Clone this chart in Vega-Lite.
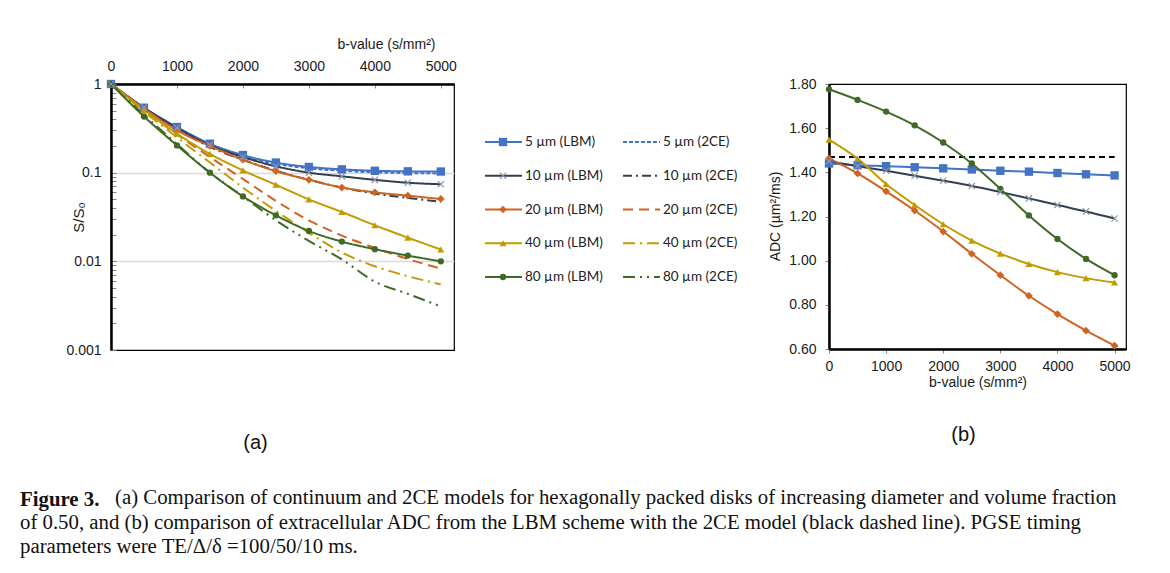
{
  "$schema": "https://vega.github.io/schema/vega-lite/v6.json",
  "background": "white",
  "padding": {"left": 20, "top": 36, "right": 0, "bottom": 0},
  "config": {
    "font": "Liberation Sans",
    "view": {"stroke": "#000", "strokeWidth": 1.2},
    "axis": {"labelFont": "Liberation Sans", "labelFontSize": 14, "labelColor": "#1a1a1a", "titleFont": "Liberation Sans", "titleFontSize": 14, "titleFontWeight": "normal", "titleColor": "#1a1a1a", "domainColor": "#000", "domainWidth": 2.5, "tickColor": "#888", "grid": false, "labelFlush": false, "labelOverlap": false},
    "title": {"font": "Liberation Sans", "fontWeight": "normal", "fontSize": 20, "color": "#111"}
  },
  "title": {
    "text": "(a) Comparison of continuum and 2CE models for hexagonally packed disks of increasing diameter and volume fraction",
    "orient": "bottom", "anchor": "start", "frame": "group", "dx": 4, "offset": -69,
    "font": "Liberation Serif", "fontSize": 20.8, "fontWeight": "normal", "color": "#111"
  },
  "datasets": {
    "a": [
      {"s":"5 µm (LBM)","d":5,"m":"LBM","b":0,"v":1},{"s":"5 µm (LBM)","d":5,"m":"LBM","b":500,"v":0.54},{"s":"5 µm (LBM)","d":5,"m":"LBM","b":1000,"v":0.327},{"s":"5 µm (LBM)","d":5,"m":"LBM","b":1500,"v":0.212},{"s":"5 µm (LBM)","d":5,"m":"LBM","b":2000,"v":0.158},{"s":"5 µm (LBM)","d":5,"m":"LBM","b":2500,"v":0.13},{"s":"5 µm (LBM)","d":5,"m":"LBM","b":3000,"v":0.116},{"s":"5 µm (LBM)","d":5,"m":"LBM","b":3500,"v":0.109},{"s":"5 µm (LBM)","d":5,"m":"LBM","b":4000,"v":0.105},{"s":"5 µm (LBM)","d":5,"m":"LBM","b":4500,"v":0.1035},{"s":"5 µm (LBM)","d":5,"m":"LBM","b":5000,"v":0.103},
      {"s":"5 µm (2CE)","d":5,"m":"2CE","b":0,"v":1},{"s":"5 µm (2CE)","d":5,"m":"2CE","b":500,"v":0.54},{"s":"5 µm (2CE)","d":5,"m":"2CE","b":1000,"v":0.322},{"s":"5 µm (2CE)","d":5,"m":"2CE","b":1500,"v":0.207},{"s":"5 µm (2CE)","d":5,"m":"2CE","b":2000,"v":0.153},{"s":"5 µm (2CE)","d":5,"m":"2CE","b":2500,"v":0.126},{"s":"5 µm (2CE)","d":5,"m":"2CE","b":3000,"v":0.112},{"s":"5 µm (2CE)","d":5,"m":"2CE","b":3500,"v":0.105},{"s":"5 µm (2CE)","d":5,"m":"2CE","b":4000,"v":0.101},{"s":"5 µm (2CE)","d":5,"m":"2CE","b":4500,"v":0.099},{"s":"5 µm (2CE)","d":5,"m":"2CE","b":5000,"v":0.098},
      {"s":"10 µm (LBM)","d":10,"m":"LBM","b":0,"v":1},{"s":"10 µm (LBM)","d":10,"m":"LBM","b":500,"v":0.54},{"s":"10 µm (LBM)","d":10,"m":"LBM","b":1000,"v":0.32},{"s":"10 µm (LBM)","d":10,"m":"LBM","b":1500,"v":0.205},{"s":"10 µm (LBM)","d":10,"m":"LBM","b":2000,"v":0.15},{"s":"10 µm (LBM)","d":10,"m":"LBM","b":2500,"v":0.118},{"s":"10 µm (LBM)","d":10,"m":"LBM","b":3000,"v":0.1},{"s":"10 µm (LBM)","d":10,"m":"LBM","b":3500,"v":0.091},{"s":"10 µm (LBM)","d":10,"m":"LBM","b":4000,"v":0.083},{"s":"10 µm (LBM)","d":10,"m":"LBM","b":4500,"v":0.077},{"s":"10 µm (LBM)","d":10,"m":"LBM","b":5000,"v":0.074},
      {"s":"10 µm (2CE)","d":10,"m":"2CE","b":0,"v":1},{"s":"10 µm (2CE)","d":10,"m":"2CE","b":500,"v":0.53},{"s":"10 µm (2CE)","d":10,"m":"2CE","b":1000,"v":0.31},{"s":"10 µm (2CE)","d":10,"m":"2CE","b":1500,"v":0.195},{"s":"10 µm (2CE)","d":10,"m":"2CE","b":2000,"v":0.14},{"s":"10 µm (2CE)","d":10,"m":"2CE","b":2500,"v":0.105},{"s":"10 µm (2CE)","d":10,"m":"2CE","b":3000,"v":0.083},{"s":"10 µm (2CE)","d":10,"m":"2CE","b":3500,"v":0.068},{"s":"10 µm (2CE)","d":10,"m":"2CE","b":4000,"v":0.058},{"s":"10 µm (2CE)","d":10,"m":"2CE","b":4500,"v":0.052},{"s":"10 µm (2CE)","d":10,"m":"2CE","b":5000,"v":0.047},
      {"s":"20 µm (LBM)","d":20,"m":"LBM","b":0,"v":1},{"s":"20 µm (LBM)","d":20,"m":"LBM","b":500,"v":0.53},{"s":"20 µm (LBM)","d":20,"m":"LBM","b":1000,"v":0.3},{"s":"20 µm (LBM)","d":20,"m":"LBM","b":1500,"v":0.2},{"s":"20 µm (LBM)","d":20,"m":"LBM","b":2000,"v":0.14},{"s":"20 µm (LBM)","d":20,"m":"LBM","b":2500,"v":0.104},{"s":"20 µm (LBM)","d":20,"m":"LBM","b":3000,"v":0.083},{"s":"20 µm (LBM)","d":20,"m":"LBM","b":3500,"v":0.068},{"s":"20 µm (LBM)","d":20,"m":"LBM","b":4000,"v":0.06},{"s":"20 µm (LBM)","d":20,"m":"LBM","b":4500,"v":0.055},{"s":"20 µm (LBM)","d":20,"m":"LBM","b":5000,"v":0.0505},
      {"s":"20 µm (2CE)","d":20,"m":"2CE","b":0,"v":1},{"s":"20 µm (2CE)","d":20,"m":"2CE","b":500,"v":0.51},{"s":"20 µm (2CE)","d":20,"m":"2CE","b":1000,"v":0.27},{"s":"20 µm (2CE)","d":20,"m":"2CE","b":1500,"v":0.15},{"s":"20 µm (2CE)","d":20,"m":"2CE","b":2000,"v":0.085},{"s":"20 µm (2CE)","d":20,"m":"2CE","b":2500,"v":0.048},{"s":"20 µm (2CE)","d":20,"m":"2CE","b":3000,"v":0.029},{"s":"20 µm (2CE)","d":20,"m":"2CE","b":3500,"v":0.0195},{"s":"20 µm (2CE)","d":20,"m":"2CE","b":4000,"v":0.0142},{"s":"20 µm (2CE)","d":20,"m":"2CE","b":4500,"v":0.0106},{"s":"20 µm (2CE)","d":20,"m":"2CE","b":5000,"v":0.0083},
      {"s":"40 µm (LBM)","d":40,"m":"LBM","b":0,"v":1},{"s":"40 µm (LBM)","d":40,"m":"LBM","b":500,"v":0.51},{"s":"40 µm (LBM)","d":40,"m":"LBM","b":1000,"v":0.275},{"s":"40 µm (LBM)","d":40,"m":"LBM","b":1500,"v":0.163},{"s":"40 µm (LBM)","d":40,"m":"LBM","b":2000,"v":0.106},{"s":"40 µm (LBM)","d":40,"m":"LBM","b":2500,"v":0.073},{"s":"40 µm (LBM)","d":40,"m":"LBM","b":3000,"v":0.05},{"s":"40 µm (LBM)","d":40,"m":"LBM","b":3500,"v":0.036},{"s":"40 µm (LBM)","d":40,"m":"LBM","b":4000,"v":0.0255},{"s":"40 µm (LBM)","d":40,"m":"LBM","b":4500,"v":0.0185},{"s":"40 µm (LBM)","d":40,"m":"LBM","b":5000,"v":0.0136},
      {"s":"40 µm (2CE)","d":40,"m":"2CE","b":0,"v":1},{"s":"40 µm (2CE)","d":40,"m":"2CE","b":500,"v":0.49},{"s":"40 µm (2CE)","d":40,"m":"2CE","b":1000,"v":0.25},{"s":"40 µm (2CE)","d":40,"m":"2CE","b":1500,"v":0.13},{"s":"40 µm (2CE)","d":40,"m":"2CE","b":2000,"v":0.068},{"s":"40 µm (2CE)","d":40,"m":"2CE","b":2500,"v":0.037},{"s":"40 µm (2CE)","d":40,"m":"2CE","b":3000,"v":0.021},{"s":"40 µm (2CE)","d":40,"m":"2CE","b":3500,"v":0.0126},{"s":"40 µm (2CE)","d":40,"m":"2CE","b":4000,"v":0.0088},{"s":"40 µm (2CE)","d":40,"m":"2CE","b":4500,"v":0.0068},{"s":"40 µm (2CE)","d":40,"m":"2CE","b":5000,"v":0.0055},
      {"s":"80 µm (LBM)","d":80,"m":"LBM","b":0,"v":1},{"s":"80 µm (LBM)","d":80,"m":"LBM","b":500,"v":0.43},{"s":"80 µm (LBM)","d":80,"m":"LBM","b":1000,"v":0.203},{"s":"80 µm (LBM)","d":80,"m":"LBM","b":1500,"v":0.1},{"s":"80 µm (LBM)","d":80,"m":"LBM","b":2000,"v":0.054},{"s":"80 µm (LBM)","d":80,"m":"LBM","b":2500,"v":0.033},{"s":"80 µm (LBM)","d":80,"m":"LBM","b":3000,"v":0.022},{"s":"80 µm (LBM)","d":80,"m":"LBM","b":3500,"v":0.0167},{"s":"80 µm (LBM)","d":80,"m":"LBM","b":4000,"v":0.0137},{"s":"80 µm (LBM)","d":80,"m":"LBM","b":4500,"v":0.0116},{"s":"80 µm (LBM)","d":80,"m":"LBM","b":5000,"v":0.01},
      {"s":"80 µm (2CE)","d":80,"m":"2CE","b":0,"v":1},{"s":"80 µm (2CE)","d":80,"m":"2CE","b":500,"v":0.45},{"s":"80 µm (2CE)","d":80,"m":"2CE","b":1000,"v":0.21},{"s":"80 µm (2CE)","d":80,"m":"2CE","b":1500,"v":0.1},{"s":"80 µm (2CE)","d":80,"m":"2CE","b":2000,"v":0.054},{"s":"80 µm (2CE)","d":80,"m":"2CE","b":2500,"v":0.029},{"s":"80 µm (2CE)","d":80,"m":"2CE","b":3000,"v":0.017},{"s":"80 µm (2CE)","d":80,"m":"2CE","b":3500,"v":0.0105},{"s":"80 µm (2CE)","d":80,"m":"2CE","b":4000,"v":0.0059},{"s":"80 µm (2CE)","d":80,"m":"2CE","b":4500,"v":0.0043},{"s":"80 µm (2CE)","d":80,"m":"2CE","b":5000,"v":0.0031}
    ],
    "leg": [
      {"s":"5 µm (LBM)","d":5,"m":"LBM"},{"s":"5 µm (2CE)","d":5,"m":"2CE"},
      {"s":"10 µm (LBM)","d":10,"m":"LBM"},{"s":"10 µm (2CE)","d":10,"m":"2CE"},
      {"s":"20 µm (LBM)","d":20,"m":"LBM"},{"s":"20 µm (2CE)","d":20,"m":"2CE"},
      {"s":"40 µm (LBM)","d":40,"m":"LBM"},{"s":"40 µm (2CE)","d":40,"m":"2CE"},
      {"s":"80 µm (LBM)","d":80,"m":"LBM"},{"s":"80 µm (2CE)","d":80,"m":"2CE"}
    ],
    "b": [
      {"s":"5 µm (LBM)","d":5,"b":0,"v":1.44},{"s":"5 µm (LBM)","d":5,"b":500,"v":1.432},{"s":"5 µm (LBM)","d":5,"b":1000,"v":1.428},{"s":"5 µm (LBM)","d":5,"b":1500,"v":1.423},{"s":"5 µm (LBM)","d":5,"b":2000,"v":1.418},{"s":"5 µm (LBM)","d":5,"b":2500,"v":1.413},{"s":"5 µm (LBM)","d":5,"b":3000,"v":1.407},{"s":"5 µm (LBM)","d":5,"b":3500,"v":1.403},{"s":"5 µm (LBM)","d":5,"b":4000,"v":1.397},{"s":"5 µm (LBM)","d":5,"b":4500,"v":1.391},{"s":"5 µm (LBM)","d":5,"b":5000,"v":1.386},
      {"s":"10 µm (LBM)","d":10,"b":0,"v":1.45},{"s":"10 µm (LBM)","d":10,"b":500,"v":1.428},{"s":"10 µm (LBM)","d":10,"b":1000,"v":1.407},{"s":"10 µm (LBM)","d":10,"b":1500,"v":1.385},{"s":"10 µm (LBM)","d":10,"b":2000,"v":1.362},{"s":"10 µm (LBM)","d":10,"b":2500,"v":1.338},{"s":"10 µm (LBM)","d":10,"b":3000,"v":1.311},{"s":"10 µm (LBM)","d":10,"b":3500,"v":1.282},{"s":"10 µm (LBM)","d":10,"b":4000,"v":1.252},{"s":"10 µm (LBM)","d":10,"b":4500,"v":1.223},{"s":"10 µm (LBM)","d":10,"b":5000,"v":1.191},
      {"s":"20 µm (LBM)","d":20,"b":0,"v":1.463},{"s":"20 µm (LBM)","d":20,"b":500,"v":1.395},{"s":"20 µm (LBM)","d":20,"b":1000,"v":1.314},{"s":"20 µm (LBM)","d":20,"b":1500,"v":1.227},{"s":"20 µm (LBM)","d":20,"b":2000,"v":1.132},{"s":"20 µm (LBM)","d":20,"b":2500,"v":1.031},{"s":"20 µm (LBM)","d":20,"b":3000,"v":0.934},{"s":"20 µm (LBM)","d":20,"b":3500,"v":0.841},{"s":"20 µm (LBM)","d":20,"b":4000,"v":0.758},{"s":"20 µm (LBM)","d":20,"b":4500,"v":0.683},{"s":"20 µm (LBM)","d":20,"b":5000,"v":0.615},
      {"s":"40 µm (LBM)","d":40,"b":0,"v":1.548},{"s":"40 µm (LBM)","d":40,"b":500,"v":1.462},{"s":"40 µm (LBM)","d":40,"b":1000,"v":1.347},{"s":"40 µm (LBM)","d":40,"b":1500,"v":1.252},{"s":"40 µm (LBM)","d":40,"b":2000,"v":1.165},{"s":"40 µm (LBM)","d":40,"b":2500,"v":1.091},{"s":"40 µm (LBM)","d":40,"b":3000,"v":1.032},{"s":"40 µm (LBM)","d":40,"b":3500,"v":0.985},{"s":"40 µm (LBM)","d":40,"b":4000,"v":0.948},{"s":"40 µm (LBM)","d":40,"b":4500,"v":0.921},{"s":"40 µm (LBM)","d":40,"b":5000,"v":0.901},
      {"s":"80 µm (LBM)","d":80,"b":0,"v":1.776},{"s":"80 µm (LBM)","d":80,"b":500,"v":1.728},{"s":"80 µm (LBM)","d":80,"b":1000,"v":1.675},{"s":"80 µm (LBM)","d":80,"b":1500,"v":1.613},{"s":"80 µm (LBM)","d":80,"b":2000,"v":1.535},{"s":"80 µm (LBM)","d":80,"b":2500,"v":1.44},{"s":"80 µm (LBM)","d":80,"b":3000,"v":1.325},{"s":"80 µm (LBM)","d":80,"b":3500,"v":1.205},{"s":"80 µm (LBM)","d":80,"b":4000,"v":1.098},{"s":"80 µm (LBM)","d":80,"b":4500,"v":1.008},{"s":"80 µm (LBM)","d":80,"b":5000,"v":0.934}
    ],
    "ref": [{"s":"2CE model","b":0,"v":1.47},{"s":"2CE model","b":5000,"v":1.47}]
  },
  "bounds": "flush",
  "vconcat": [
    {
      "title": {
        "text": "Figure 3.",
        "subtitle": ["of 0.50, and (b) comparison of extracellular ADC from the LBM scheme with the 2CE model (black dashed line). PGSE timing", "parameters were TE/Δ/δ =100/50/10 ms."],
        "orient": "bottom", "anchor": "start", "frame": "group", "dx": -91, "offset": 36,
        "font": "Liberation Serif", "fontSize": 20.8, "fontWeight": "bold", "color": "#111",
        "subtitleFont": "Liberation Serif", "subtitleFontSize": 20.8, "subtitleColor": "#111", "subtitlePadding": 3, "subtitleLineHeight": 24
      },
      "resolve": {"scale": {"color": "independent", "strokeDash": "independent", "shape": "independent", "size": "independent"}},
      "bounds": "flush",
      "spacing": 31,
      "hconcat": [
        {
          "width": 343, "height": 266,
          "data": {"name": "a"},
          "title": {"text": "(a)", "orient": "bottom", "frame": "group", "anchor": "middle", "offset": 76, "dx": -27},
          "encoding": {
            "x": {"field": "b", "type": "quantitative", "scale": {"domain": [0, 5200], "nice": false},
                  "axis": {"orient": "top", "values": [0, 1000, 2000, 3000, 4000, 5000], "format": "d", "title": "b-value (s/mm²)", "titleX": 275, "titleY": -36, "titleAnchor": null, "titleAlign": "center", "titleBaseline": "alphabetic", "tickSize": -4, "tickWidth": 1, "labelPadding": 15, "domainWidth": 2.5}},
            "y": {"field": "v", "type": "quantitative", "scale": {"type": "log", "domain": [0.001, 1], "nice": false},
                  "axis": {"values": [0.001,0.002,0.003,0.004,0.005,0.006,0.007,0.008,0.009,0.01,0.02,0.03,0.04,0.05,0.06,0.07,0.08,0.09,0.1,0.2,0.3,0.4,0.5,0.6,0.7,0.8,0.9,1],
                           "labelExpr": "datum.value==1?'1':datum.value==0.1?'0.1':datum.value==0.01?'0.01':datum.value==0.001?'0.001':''",
                           "title": "S/S₀", "titleFontSize": 15, "titleX": -33, "titleY": 133, "titleAlign": "center", "titleBaseline": "middle", "titleAnchor": null,
                           "tickSize": -5, "tickWidth": 1, "labelPadding": 15,
                           "grid": true, "gridColor": "#d9d9d9", "gridWidth": 1.5,
                           "gridOpacity": {"condition": {"test": "datum.value==0.1 || datum.value==0.01", "value": 1}, "value": 0}}}
          },
          "layer": [
            {"mark": {"type": "line", "strokeWidth": 2, "interpolate": "monotone"},
             "encoding": {
               "detail": {"field": "s"},
               "color": {"field": "s", "type": "nominal", "legend": null, "scale": {"domain": ["5 µm (LBM)","5 µm (2CE)","10 µm (LBM)","10 µm (2CE)","20 µm (LBM)","20 µm (2CE)","40 µm (LBM)","40 µm (2CE)","80 µm (LBM)","80 µm (2CE)"], "range": ["#4472C4","#4472C4","#333F50","#333F50","#D0631F","#D0631F","#C39B00","#C39B00","#3F6A26","#3F6A26"]}},
               "strokeDash": {"field": "s", "type": "nominal", "legend": null, "scale": {"domain": ["5 µm (LBM)","5 µm (2CE)","10 µm (LBM)","10 µm (2CE)","20 µm (LBM)","20 µm (2CE)","40 µm (LBM)","40 µm (2CE)","80 µm (LBM)","80 µm (2CE)"], "range": [[1,0],[4,2],[1,0],[9,4,2,4],[1,0],[10,6],[1,0],[12,5,2,5],[1,0],[12,5,2,5,2,5]]}}
             }},
            {"transform": [{"filter": "datum.m=='LBM' && datum.d!=10"}],
             "mark": {"type": "point", "filled": true, "opacity": 1},
             "encoding": {
               "color": {"field": "s", "type": "nominal", "legend": null, "scale": {"domain": ["5 µm (LBM)","5 µm (2CE)","10 µm (LBM)","10 µm (2CE)","20 µm (LBM)","20 µm (2CE)","40 µm (LBM)","40 µm (2CE)","80 µm (LBM)","80 µm (2CE)"], "range": ["#4472C4","#4472C4","#333F50","#333F50","#D0631F","#D0631F","#C39B00","#C39B00","#3F6A26","#3F6A26"]}},
               "shape": {"field": "s", "type": "nominal", "legend": null, "scale": {"domain": ["5 µm (LBM)","20 µm (LBM)","40 µm (LBM)","80 µm (LBM)"], "range": ["square","diamond","triangle-up","circle"]}},
               "size": {"field": "s", "type": "ordinal", "legend": null, "scale": {"domain": ["5 µm (LBM)","20 µm (LBM)","40 µm (LBM)","80 µm (LBM)"], "range": [70, 40, 75, 75]}}
             }},
            {"transform": [{"filter": "datum.m=='LBM' && datum.d==10"}],
             "mark": {"type": "point", "shape": "M-1,-1L1,1M-1,1L1,-1", "filled": false, "color": "#8A94A6", "size": 40, "strokeWidth": 1.2, "opacity": 1}}
          ]
        },
        {
          "width": 313, "height": 266,
          "view": {"stroke": null},
          "data": {"name": "leg"},
          "encoding": {
            "x": {"field": "m", "type": "nominal", "axis": null, "scale": {"type": "point", "domain": ["LBM", "2CE"], "range": [0, 138], "padding": 0}},
            "y": {"field": "d", "type": "ordinal", "axis": null, "scale": {"type": "point", "domain": [5, 10, 20, 40, 80], "range": [58, 193], "padding": 0}}
          },
          "layer": [
            {"mark": {"type": "rule", "strokeWidth": 2, "x2Offset": 37},
             "encoding": {
               "x2": {"field": "m"},
               "color": {"field": "s", "type": "nominal", "legend": null, "scale": {"domain": ["5 µm (LBM)","5 µm (2CE)","10 µm (LBM)","10 µm (2CE)","20 µm (LBM)","20 µm (2CE)","40 µm (LBM)","40 µm (2CE)","80 µm (LBM)","80 µm (2CE)"], "range": ["#4472C4","#4472C4","#333F50","#333F50","#D0631F","#D0631F","#C39B00","#C39B00","#3F6A26","#3F6A26"]}},
               "strokeDash": {"field": "s", "type": "nominal", "legend": null, "scale": {"domain": ["5 µm (LBM)","5 µm (2CE)","10 µm (LBM)","10 µm (2CE)","20 µm (LBM)","20 µm (2CE)","40 µm (LBM)","40 µm (2CE)","80 µm (LBM)","80 µm (2CE)"], "range": [[1,0],[4,2],[1,0],[9,4,2,4],[1,0],[10,6],[1,0],[12,5,2,5],[1,0],[12,5,2,5,2,5]]}}
             }},
            {"transform": [{"filter": "datum.m=='LBM' && datum.d!=10"}],
             "mark": {"type": "point", "filled": true, "opacity": 1, "xOffset": 18},
             "encoding": {
               "color": {"field": "s", "type": "nominal", "legend": null, "scale": {"domain": ["5 µm (LBM)","5 µm (2CE)","10 µm (LBM)","10 µm (2CE)","20 µm (LBM)","20 µm (2CE)","40 µm (LBM)","40 µm (2CE)","80 µm (LBM)","80 µm (2CE)"], "range": ["#4472C4","#4472C4","#333F50","#333F50","#D0631F","#D0631F","#C39B00","#C39B00","#3F6A26","#3F6A26"]}},
               "shape": {"field": "s", "type": "nominal", "legend": null, "scale": {"domain": ["5 µm (LBM)","20 µm (LBM)","40 µm (LBM)","80 µm (LBM)"], "range": ["square","diamond","triangle-up","circle"]}},
               "size": {"field": "s", "type": "ordinal", "legend": null, "scale": {"domain": ["5 µm (LBM)","20 µm (LBM)","40 µm (LBM)","80 µm (LBM)"], "range": [70, 40, 75, 75]}}
             }},
            {"transform": [{"filter": "datum.m=='LBM' && datum.d==10"}],
             "mark": {"type": "point", "shape": "M-1,-1L1,1M-1,1L1,-1", "filled": false, "color": "#8A94A6", "size": 40, "strokeWidth": 1.2, "opacity": 1, "xOffset": 18}},
            {"mark": {"type": "text", "align": "left", "baseline": "middle", "dx": 40, "font": "Lato", "fontSize": 13.5, "color": "#222"},
             "encoding": {"text": {"field": "s"}}}
          ]
        },
        {
          "width": 297, "height": 265,
          "title": {"text": "(b)", "orient": "bottom", "frame": "group", "anchor": "middle", "offset": 36, "dx": -14},
          "encoding": {
            "x": {"field": "b", "type": "quantitative", "scale": {"domain": [0, 5200], "nice": false},
                  "axis": {"values": [0, 1000, 2000, 3000, 4000, 5000], "format": "d", "title": "b-value (s/mm²)", "tickSize": 4, "labelPadding": 6, "titlePadding": 2}},
            "y": {"field": "v", "type": "quantitative", "scale": {"domain": [0.6, 1.8], "nice": false, "zero": false},
                  "axis": {"values": [0.6, 0.8, 1.0, 1.2, 1.4, 1.6, 1.8], "format": ".2f", "title": "ADC (µm²/ms)", "titleX": -54, "titleY": 132, "titleAlign": "center", "titleBaseline": "middle", "titleAnchor": null, "tickSize": 4, "labelPadding": 9}}
          },
          "layer": [
            {"data": {"name": "ref"}, "mark": {"type": "line", "color": "#000", "strokeDash": [6, 4], "strokeWidth": 2}},
            {"data": {"name": "b"}, "mark": {"type": "line", "strokeWidth": 2, "interpolate": "monotone"},
             "encoding": {
               "color": {"field": "s", "type": "nominal", "legend": null, "scale": {"domain": ["5 µm (LBM)","10 µm (LBM)","20 µm (LBM)","40 µm (LBM)","80 µm (LBM)"], "range": ["#4472C4","#333F50","#D0631F","#C39B00","#3F6A26"]}}
             }},
            {"data": {"name": "b"}, "transform": [{"filter": "datum.d!=10"}],
             "mark": {"type": "point", "filled": true, "opacity": 1},
             "encoding": {
               "color": {"field": "s", "type": "nominal", "legend": null, "scale": {"domain": ["5 µm (LBM)","10 µm (LBM)","20 µm (LBM)","40 µm (LBM)","80 µm (LBM)"], "range": ["#4472C4","#333F50","#D0631F","#C39B00","#3F6A26"]}},
               "shape": {"field": "s", "type": "nominal", "legend": null, "scale": {"domain": ["5 µm (LBM)","20 µm (LBM)","40 µm (LBM)","80 µm (LBM)"], "range": ["square","diamond","triangle-up","circle"]}},
               "size": {"field": "s", "type": "ordinal", "legend": null, "scale": {"domain": ["5 µm (LBM)","20 µm (LBM)","40 µm (LBM)","80 µm (LBM)"], "range": [70, 40, 75, 75]}}
             }},
            {"data": {"name": "b"}, "transform": [{"filter": "datum.d==10"}],
             "mark": {"type": "point", "shape": "M-1,-1L1,1M-1,1L1,-1", "filled": false, "color": "#8A94A6", "size": 40, "strokeWidth": 1.2, "opacity": 1}}
          ]
        }
      ]
    }
  ]
}
